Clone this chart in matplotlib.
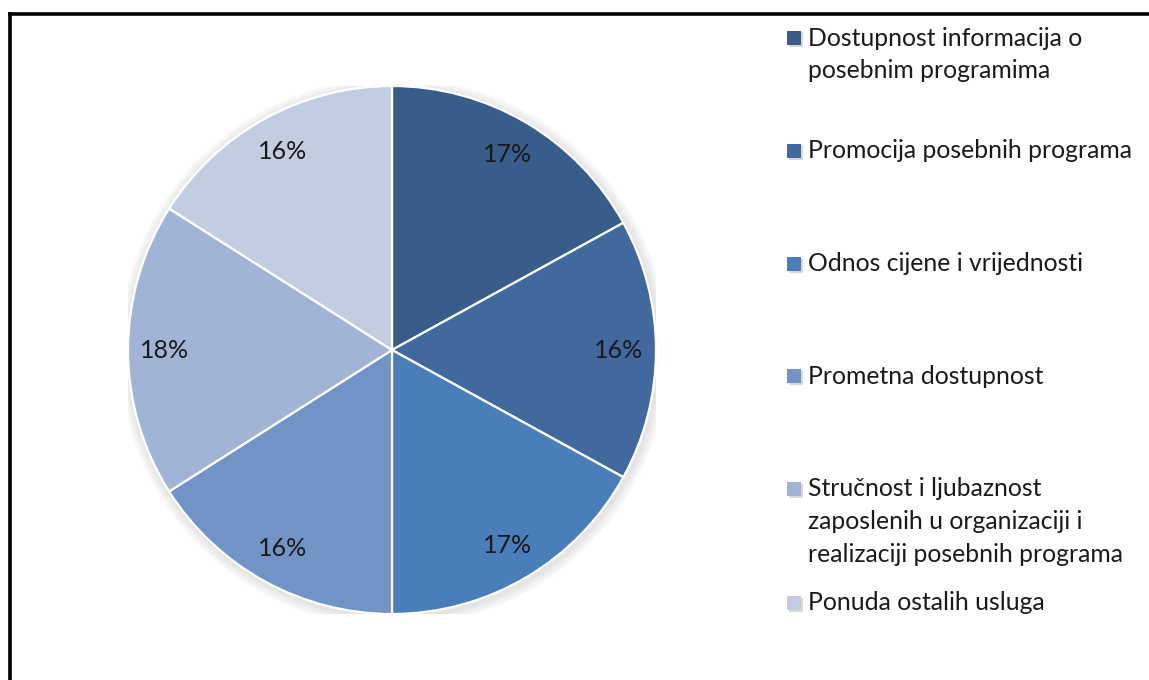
import matplotlib
matplotlib.use("Agg")
import matplotlib.pyplot as plt
from matplotlib.patches import Circle, Rectangle
from matplotlib.lines import Line2D
import numpy as np

# Survey shares (percent) for each evaluated aspect
categories = [
    "Dostupnost informacija o\nposebnim programima",
    "Promocija posebnih programa",
    "Odnos cijene i vrijednosti",
    "Prometna dostupnost",
    "Stručnost i ljubaznost\nzaposlenih u organizaciji i\nrealizaciji posebnih programa",
    "Ponuda ostalih usluga",
]
shares = [17, 16, 17, 16, 18, 16]
colors = ["#385D8A", "#41699E", "#4A7EBB", "#7293C5", "#A2B4D6", "#C3CDE2"]

W, H = 1149, 680
fig = plt.figure(figsize=(W / 100, H / 100), dpi=100)
fig.patch.set_facecolor("white")
plt.rcParams["font.family"] = ["Lato", "DejaVu Sans"]

# Pie axes placed by pixel geometry
cx, cy, r = 392, 350, 264
ax = fig.add_axes([(cx - r) / W, (H - cy - r) / H, 2 * r / W, 2 * r / H])
ax.axis("off")

# soft shadow beneath the pie
for i, a in enumerate([0.05, 0.05, 0.05, 0.06]):
    ax.add_patch(Circle((0.006, -0.008), 1.0 + 0.010 * (4 - i), color="#808080",
                        alpha=a, lw=0, zorder=0))

wedges, _ = ax.pie(
    shares, colors=colors, startangle=90, counterclock=False, radius=1.0,
    wedgeprops=dict(edgecolor="white", linewidth=1.6),
)
for w in wedges:
    w.set_zorder(2)
ax.set_xlim(-1, 1)
ax.set_ylim(-1, 1)
ax.set_aspect("equal")

# percentage labels computed from the wedge angles
total = sum(shares)
start = 90.0
for v in shares:
    sweep = v / total * 360.0
    mid = np.deg2rad(start - sweep / 2)
    start -= sweep
    ax.text(0.86 * np.cos(mid), 0.86 * np.sin(mid), f"{v / total * 100:.0f}%",
            ha="center", va="center", fontsize=18, color="#1a1a1a", zorder=3)

# legend drawn at explicit rows
legend_y = [38, 151, 264, 376, 489, 603]
line_h = 32.5
for lab, col, y in zip(categories, colors, legend_y):
    fig.patches.append(Rectangle(((787 + 1.5) / W, 1 - (y + 7 + 1.5) / H), 14 / W, 14 / H,
                                 transform=fig.transFigure, facecolor="#d8d8d8",
                                 edgecolor="none", zorder=1))
    fig.patches.append(Rectangle((787 / W, 1 - (y + 7) / H), 14 / W, 14 / H,
                                 transform=fig.transFigure, facecolor=col,
                                 edgecolor="none", zorder=2))
    for k, ln in enumerate(lab.split("\n")):
        fig.text(808 / W, 1 - (y + k * line_h) / H, ln, ha="left", va="center",
                 fontsize=17.8, color="#1a1a1a")

# outer frame (top and left edges visible)
fig.add_artist(Line2D([10 / W, 10 / W], [0, 1 - 14 / H], transform=fig.transFigure,
                      color="black", lw=2.6, solid_capstyle="projecting"))
fig.add_artist(Line2D([10 / W, 1], [1 - 14 / H, 1 - 14 / H], transform=fig.transFigure,
                      color="black", lw=2.6, solid_capstyle="projecting"))

fig.savefig("out.png", dpi=100)
